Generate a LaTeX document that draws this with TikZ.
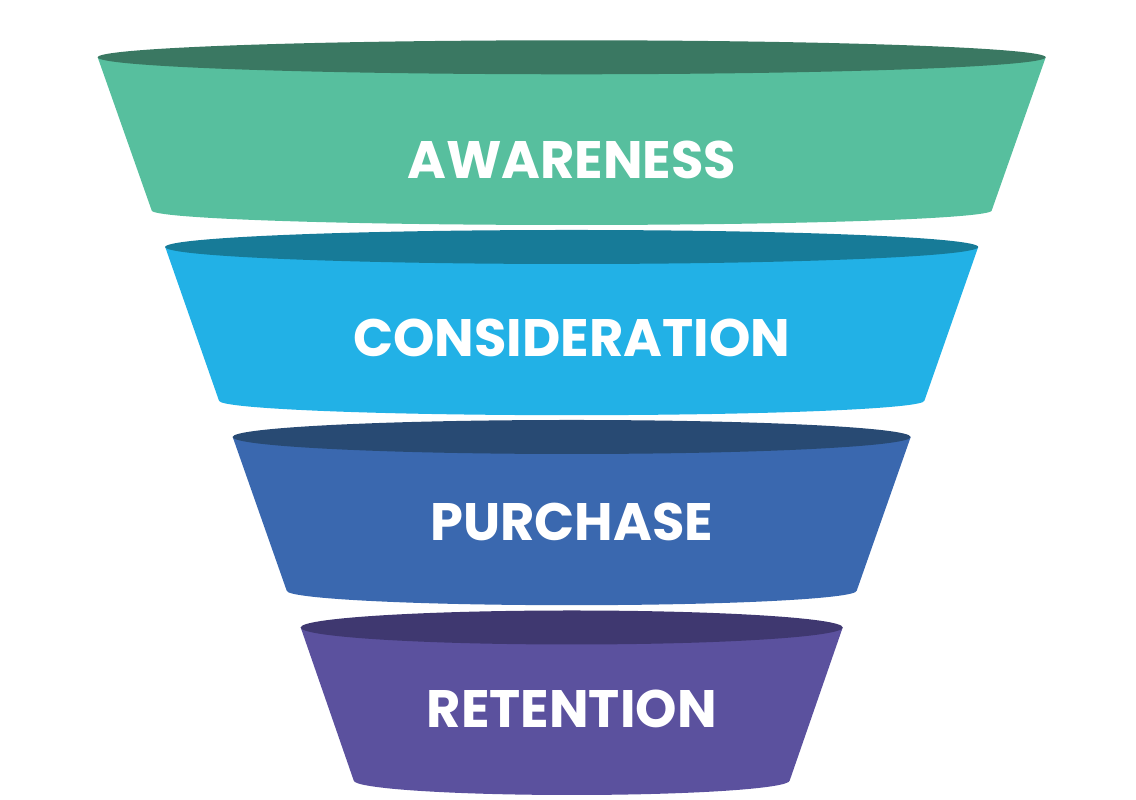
\documentclass[tikz,border=0pt]{standalone}
\usepackage{fontspec}
\setmainfont{Poppins}
\usepackage{tikz}

\definecolor{awSide}{HTML}{57BF9E}
\definecolor{awTop}{HTML}{3A7862}
\definecolor{coSide}{HTML}{22B1E6}
\definecolor{coTop}{HTML}{177B98}
\definecolor{puSide}{HTML}{3A68AF}
\definecolor{puTop}{HTML}{284A73}
\definecolor{reSide}{HTML}{5B519E}
\definecolor{reTop}{HTML}{3F3870}

\begin{document}
\begin{tikzpicture}[
  x=0.02cm, y=0.02cm,
  band/.style={draw=none},
  stage/.style={text=white, font=\bfseries\fontsize{30}{32}\selectfont, inner sep=0pt}
]
\useasboundingbox (0,0) rectangle (1136,800);

% awareness
\fill[awSide] (97.7,742.7) -- (151.7,589.5)
  arc[start angle=180, end angle=360, x radius=420, y radius=14.5]
  -- (1045.7,742.7) -- cycle;
\fill[awTop] (571.7,742.7) ellipse[x radius=474, y radius=17];
\node[stage] (aw) at (571.7,640) {AWARENESS};

% consideration
\fill[coSide] (165.2,553) -- (219,399.3)
  arc[start angle=180, end angle=360, x radius=352.7, y radius=14.5]
  -- (978.2,553) -- cycle;
\fill[coTop] (571.7,553) ellipse[x radius=406.5, y radius=17];
\node[stage] (co) at (571.7,462.3) {CONSIDERATION};

% purchase
\fill[puSide] (232.7,363) -- (286.7,209.3)
  arc[start angle=180, end angle=360, x radius=285, y radius=14.5]
  -- (910.7,363) -- cycle;
\fill[puTop] (571.7,363) ellipse[x radius=339, y radius=17];
\node[stage] (pu) at (571.7,278.3) {PURCHASE};

% retention
\fill[reSide] (300.7,172.5) -- (353.7,19.5)
  arc[start angle=180, end angle=360, x radius=218, y radius=14.5]
  -- (842.7,172.5) -- cycle;
\fill[reTop] (571.7,172.5) ellipse[x radius=271, y radius=17];
\node[stage] (re) at (571.7,91) {RETENTION};
\end{tikzpicture}
\end{document}
